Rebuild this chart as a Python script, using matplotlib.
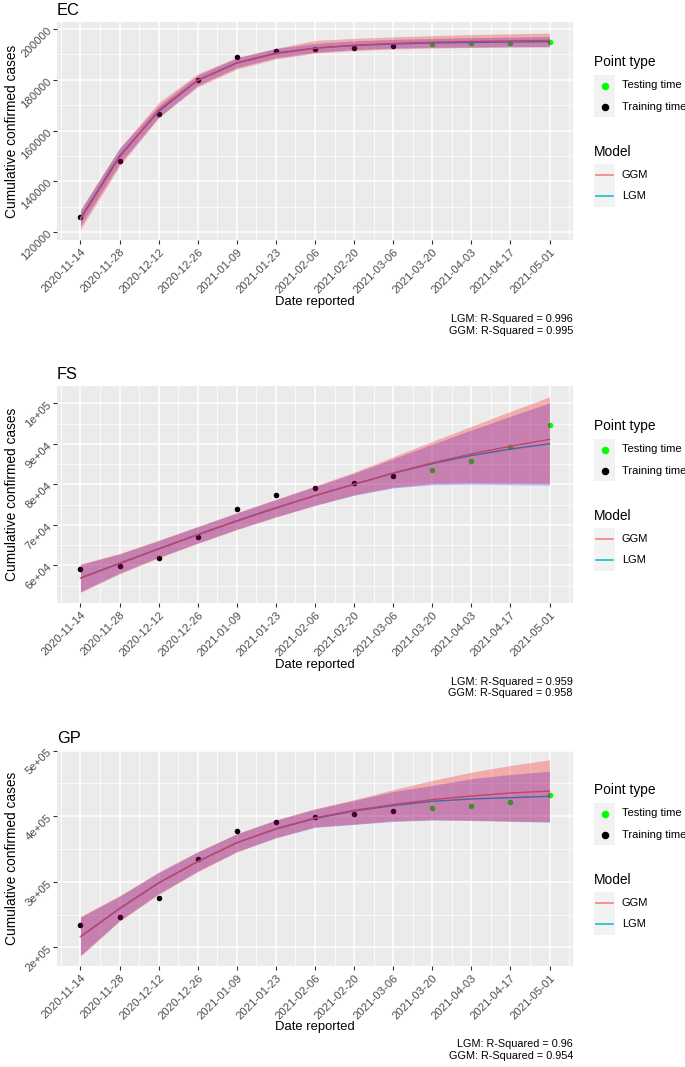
import numpy as np
import pandas as pd
import matplotlib
matplotlib.use("Agg")
import matplotlib.pyplot as plt
import matplotlib.dates as mdates
from matplotlib.ticker import FixedLocator, FuncFormatter
from matplotlib.patches import Rectangle
from matplotlib.lines import Line2D

plt.rcParams['font.family'] = ['Liberation Sans', 'DejaVu Sans']

W, H = 685, 1067

# reporting dates (two-week steps), first 9 are training, last 4 testing
dates = ["2020-11-14", "2020-11-28", "2020-12-12", "2020-12-26", "2021-01-09",
         "2021-01-23", "2021-02-06", "2021-02-20", "2021-03-06", "2021-03-20",
         "2021-04-03", "2021-04-17", "2021-05-01"]
point_type = ["Training time"] * 9 + ["Testing time"] * 4

# EC
ec_cases = [126100, 148150, 166500, 179900, 189000, 191300, 192250, 192650,
            193400, 193950, 194350, 194600, 195000]
ec_ggm_fit = [125000, 149500, 168000, 179800, 186500, 190300, 192400, 193600,
              194300, 194800, 195100, 195300, 195500]
ec_ggm_lo = [121000, 146000, 165000, 177200, 184200, 188200, 190500, 191500,
             192100, 192500, 192700, 192900, 193000]
ec_ggm_hi = [129000, 153000, 171000, 182400, 188800, 192400, 195500, 196300,
             196900, 197400, 197800, 198100, 198400]
ec_lgm_fit = [125500, 150000, 167500, 179800, 186700, 190500, 192500, 193500,
              194100, 194500, 194700, 194900, 195000]
ec_lgm_lo = [122500, 147000, 165200, 177800, 184800, 188700, 190800, 191900,
             192500, 192800, 192900, 193000, 193000]
ec_lgm_hi = [128500, 153000, 169800, 181800, 188600, 192300, 194300, 195300,
             195900, 196300, 196600, 196800, 197000]

# FS
fs_cases = [59000, 59800, 61700, 67100, 73800, 77400, 79200, 80300, 82000,
            83450, 85750, 89300, 94600]
fs_ggm_fit = [56800, 60400, 64000, 67500, 70900, 74100, 77200, 80000, 82800,
              85300, 87500, 89400, 91100]
fs_ggm_lo = [53300, 57900, 61800, 65400, 68800, 71900, 74800, 77400, 79300,
             80200, 80400, 80300, 80200]
fs_ggm_hi = [60300, 62900, 66200, 69600, 73000, 76300, 79600, 83000, 86800,
             90600, 94300, 98000, 101600]
fs_lgm_fit = [56900, 60500, 64100, 67600, 71000, 74200, 77200, 80000, 82700,
              85100, 87100, 88700, 90000]
fs_lgm_lo = [53500, 58100, 62000, 65500, 68900, 72000, 74800, 77300, 79100,
             79900, 80000, 79900, 79800]
fs_lgm_hi = [60200, 62800, 66100, 69500, 72900, 76200, 79400, 82700, 86300,
             89900, 93400, 96800, 100100]

# GP
gp_cases = [234850, 246000, 274700, 334300, 377800, 390900, 398500, 403500,
            408100, 412100, 416200, 421200, 431800]
gp_ggm_fit = [216200, 259000, 298000, 331000, 359500, 381000, 397500, 409100,
              417700, 425300, 430800, 435400, 438400]
gp_ggm_lo = [186800, 240000, 281000, 315600, 345500, 367500, 383800, 388000,
             392900, 395000, 394000, 392900, 391400]
gp_ggm_hi = [247500, 279000, 315000, 346000, 373500, 394500, 411600, 425300,
             440400, 454500, 467100, 477300, 485900]
gp_lgm_fit = [216500, 259500, 298500, 331000, 359500, 380500, 396500, 408000,
              416200, 422700, 426300, 428300, 430300]
gp_lgm_lo = [188000, 241000, 282000, 316500, 346000, 367000, 383000, 387500,
             392000, 394000, 393500, 392000, 391000]
gp_lgm_hi = [246000, 278000, 314000, 345500, 373000, 394000, 410500, 424000,
             437500, 447000, 457100, 463600, 468700]

panels = [
    ("EC", 22, 240, ec_cases, (ec_ggm_fit, ec_ggm_lo, ec_ggm_hi),
     (ec_lgm_fit, ec_lgm_lo, ec_lgm_hi), (116850, 202760),
     [120000, 140000, 160000, 180000, 200000], False, ("0.996", "0.995")),
    ("FS", 386, 603, fs_cases, (fs_ggm_fit, fs_ggm_lo, fs_ggm_hi),
     (fs_lgm_fit, fs_lgm_lo, fs_lgm_hi), (50690, 104270),
     [60000, 70000, 80000, 90000, 100000], True, ("0.959", "0.958")),
    ("GP", 750, 966, gp_cases, (gp_ggm_fit, gp_ggm_lo, gp_ggm_hi),
     (gp_lgm_fit, gp_lgm_lo, gp_lgm_hi), (171800, 500900),
     [200000, 300000, 400000, 500000], True, ("0.96", "0.954")),
]

GGM_COL = "#F8766D"
LGM_COL = "#00BFC4"
LEFT, RIGHT = 57, 573


def fx(x):
    return x / W


def fy(y):
    return 1 - y / H


def draw_legend(fig, top):
    tr = fig.transFigure
    fig.text(fx(594), fy(top + 40), "Point type", fontsize=9.9, va="center", ha="left")
    for i, (lab, col) in enumerate([("Testing time", "#00FF00"), ("Training time", "black")]):
        y0 = top + 53 + i * 21
        fig.patches.append(Rectangle((fx(594), fy(y0 + 21)), 21 / W, 21 / H,
                                     transform=tr, facecolor="#F2F2F2", edgecolor="none"))
        fig.lines.append(Line2D([fx(604.5)], [fy(y0 + 10.5)], transform=tr, marker="o",
                                markersize=4.4, color=col, linestyle="none"))
        fig.text(fx(622), fy(y0 + 10.5), lab, fontsize=8.0, va="center", ha="left")
    fig.text(fx(594), fy(top + 130), "Model", fontsize=9.9, va="center", ha="left")
    for i, (lab, col) in enumerate([("GGM", GGM_COL), ("LGM", LGM_COL)]):
        y0 = top + 142 + i * 21.5
        fig.patches.append(Rectangle((fx(594), fy(y0 + 21.5)), 21 / W, 21.5 / H,
                                     transform=tr, facecolor="#F2F2F2", edgecolor="none"))
        fig.lines.append(Line2D([fx(596), fx(613)], [fy(y0 + 10.75)] * 2, transform=tr,
                                color=col, linewidth=1.1))
        fig.text(fx(622), fy(y0 + 10.75), lab, fontsize=8.0, va="center", ha="left")


fig = plt.figure(figsize=(W / 100, H / 100), dpi=100)

xd = mdates.date2num(pd.to_datetime(dates).to_pydatetime())
train = np.array([p == "Training time" for p in point_type])

for name, top, bottom, cases, ggm, lgm, ylim, yticks, sci, r2 in panels:
    ax = fig.add_axes([fx(LEFT), fy(bottom), (RIGHT - LEFT) / W, (bottom - top) / H])
    ax.set_facecolor("#EBEBEB")
    for s in ax.spines.values():
        s.set_visible(False)

    cases = np.array(cases)
    ax.scatter(xd[train], cases[train], s=16, color="black", zorder=2, linewidths=0)
    ax.scatter(xd[~train], cases[~train], s=16, color="#00FF00", zorder=2, linewidths=0)
    ax.plot(xd, lgm[0], color=LGM_COL, lw=1.0, zorder=3)
    ax.plot(xd, ggm[0], color=GGM_COL, lw=1.0, zorder=3)
    ax.fill_between(xd, lgm[1], lgm[2], color="blue", alpha=0.25, linewidth=0, zorder=4)
    ax.fill_between(xd, ggm[1], ggm[2], color="red", alpha=0.27, linewidth=0, zorder=5)

    ax.set_xlim(xd[0] - 8.4, xd[-1] + 8.4)
    ax.set_ylim(*ylim)

    ax.set_xticks(xd)
    ax.set_xticklabels(dates)
    ax.xaxis.set_minor_locator(FixedLocator(np.arange(xd[0] - 7, xd[-1] + 8, 14)))
    ax.set_yticks(yticks)
    step = yticks[1] - yticks[0]
    ax.yaxis.set_minor_locator(FixedLocator(np.arange(yticks[0] - step / 2, ylim[1], step)))
    if sci:
        ax.yaxis.set_major_formatter(FuncFormatter(lambda v, p: "{:.0e}".format(v)))
    else:
        ax.yaxis.set_major_formatter(FuncFormatter(lambda v, p: "{:d}".format(int(v))))

    ax.grid(which="major", color="white", linewidth=1.1)
    ax.grid(which="minor", color="white", linewidth=0.55)
    ax.set_axisbelow(True)
    ax.tick_params(which="major", length=3, width=0.8, color="#333333",
                   labelsize=8.2, labelcolor="#4D4D4D", pad=2)
    ax.tick_params(which="minor", length=0)
    for lab in ax.get_xticklabels():
        lab.set_rotation(45)
        lab.set_ha("right")
        lab.set_va("top")
        lab.set_rotation_mode("anchor")
    for lab in ax.get_yticklabels():
        lab.set_rotation(45)
        lab.set_ha("right")
        lab.set_va("center")
        lab.set_rotation_mode("anchor")

    ax.set_xlabel("Date reported", fontsize=9.4)
    ax.xaxis.set_label_coords(0.5, -(296 - 240) / (240 - 22))
    ax.set_ylabel("Cumulative confirmed cases", fontsize=9.9)
    ax.yaxis.set_label_coords(-(LEFT - 19) / (RIGHT - LEFT), 0.5)
    ax.set_title(name, loc="left", fontsize=11.8, pad=5)

    ax.text(1.0, -(314 - 240) / (240 - 22),
            "LGM: R-Squared = {}\nGGM: R-Squared = {}".format(r2[0], r2[1]),
            transform=ax.transAxes, ha="right", va="top", fontsize=7.8,
            linespacing=1.2, multialignment="right")

    draw_legend(fig, top)

fig.savefig("out.png", dpi=100)
